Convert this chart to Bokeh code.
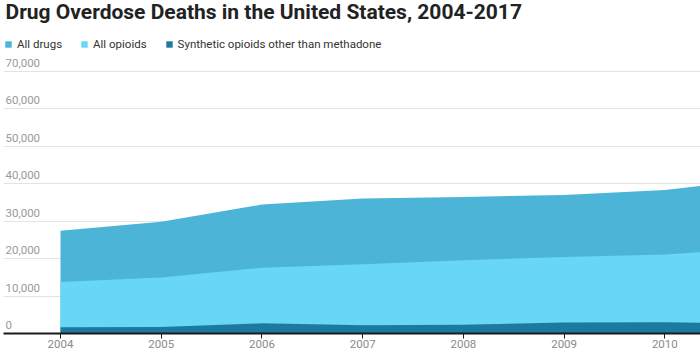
from bokeh.plotting import figure
from bokeh.models import Range1d, FixedTicker, Legend, LegendItem, ColumnDataSource, Label
from bokeh.core.properties import value
from bokeh.embed import file_html
from bokeh.resources import INLINE

# ---- data ----
years = [2004, 2005, 2006, 2007, 2008, 2009, 2010, 2011, 2012, 2013, 2014, 2015, 2016, 2017]
all_drugs = [27424, 29813, 34425, 36010, 36450, 37004, 38329, 41340, 41502, 43982, 47055, 52404, 63632, 70237]
all_opioids = [13756, 14918, 17545, 18516, 19582, 20422, 21089, 22784, 23166, 25052, 28647, 33091, 42249, 47600]
synthetic = [1664, 1742, 2707, 2213, 2306, 2946, 3007, 2666, 2628, 3105, 5544, 9580, 19413, 28466]
series_names = ["All drugs", "All opioids", "Synthetic opioids other than methadone"]
y_ticks = [0, 10000, 20000, 30000, 40000, 50000, 60000, 70000]
y_tick_labels = ["0", "10,000", "20,000", "30,000", "40,000", "50,000", "60,000", "70,000"]
title_text = "Drug Overdose Deaths in the United States, 2004-2017"

# ---- style / layout ----
FONT = "Roboto"
C_DRUGS = "#4bb4d7"
C_OPIOIDS = "#67d7f5"
C_SYN = "#1c7a9e"
X_START, X_END = 2003.434, 2010.354
HEIGHT = 353
FRAME_BOTTOM = 333            # pixel row of the zero line (frame top is row 0)
GRID_70K = 70.8               # pixel row of the 70,000 gridline
Y_END = 70000 * FRAME_BOTTOM / (FRAME_BOTTOM - GRID_70K)
LEGEND_BOTTOM = 50.5

src = ColumnDataSource(dict(year=years, drugs=all_drugs, opioids=all_opioids, syn=synthetic))

p = figure(width=700, height=HEIGHT, output_backend="svg", toolbar_location=None,
           x_range=Range1d(X_START, X_END), y_range=Range1d(0, Y_END),
           min_border_left=3, min_border_right=0, min_border_top=0,
           min_border_bottom=HEIGHT - FRAME_BOTTOM)
p.outline_line_color = None

r1 = p.varea(x="year", y1=0, y2="drugs", source=src, fill_color=C_DRUGS)
r2 = p.varea(x="year", y1=0, y2="opioids", source=src, fill_color=C_OPIOIDS)
r3 = p.varea(x="year", y1=0, y2="syn", source=src, fill_color=C_SYN)

p.yaxis.visible = False
p.ygrid.ticker = FixedTicker(ticks=y_ticks)
p.ygrid.grid_line_color = "#e3e3e3"
p.xgrid.visible = False

p.xaxis.ticker = FixedTicker(ticks=years)
p.xaxis.axis_line_color = "#1a1a1a"
p.xaxis.axis_line_width = 2
p.xaxis.major_tick_line_color = "#1a1a1a"
p.xaxis.major_tick_out = 5
p.xaxis.major_tick_in = 0
p.xaxis.minor_tick_line_color = None
p.xaxis.major_label_text_font = FONT
p.xaxis.major_label_text_font_size = "11.5px"
p.xaxis.major_label_text_color = "#8a8a8a"
p.xaxis.major_label_standoff = 1

p.text(x=[X_START] * len(y_ticks), y=y_ticks, text=y_tick_labels,
       text_font=value(FONT), text_font_size="11.5px", text_color="#9a9a9a",
       text_align="left", text_baseline="middle", x_offset=2, y_offset=-8.5)

title = Label(x=X_START, y=Y_END, x_offset=2, y_offset=-11, text=title_text,
              text_font=FONT, text_font_size="21px", text_font_style="bold",
              text_color="#222222", text_align="left", text_baseline="middle")
p.add_layout(title)

legend = Legend(items=[LegendItem(label=series_names[0], renderers=[r1]),
                       LegendItem(label=series_names[1], renderers=[r2]),
                       LegendItem(label=series_names[2], renderers=[r3])],
                orientation="horizontal", location=(1, FRAME_BOTTOM - LEGEND_BOTTOM),
                margin=0, padding=0,
                glyph_width=8, glyph_height=8, label_standoff=5, spacing=18,
                label_height=8, label_width=8, border_line_color=None, background_fill_alpha=0,
                label_text_font=FONT, label_text_font_size="11.5px", label_text_color="#333333")
p.add_layout(legend)

open("out.html", "w").write(file_html(p, INLINE))
